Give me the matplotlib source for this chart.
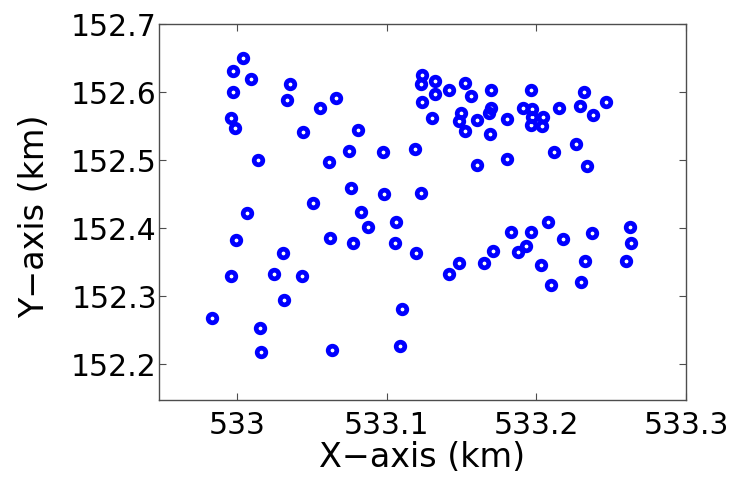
import matplotlib.pyplot as plt
import numpy as np

# station positions (km)
x_km = [533.0038, 532.9975, 533.0094, 532.9975, 533.0355, 533.0333, 533.0663,
        533.0556, 532.9960, 532.9987, 533.0444, 533.0806, 533.0143, 533.0746,
        533.0614, 533.0973, 533.1188, 533.0761, 533.0980, 533.1232, 533.0511,
        533.0828, 533.0069, 533.1065,
        533.1239, 533.1232, 533.1326, 533.1326, 533.1418, 533.1523, 533.1567,
        533.1701, 533.1239, 533.1306, 533.1500, 533.1482, 533.1601, 533.1523,
        533.1701, 533.1683, 533.1690, 533.1802, 533.1962, 533.1914, 533.1969,
        533.1974, 533.2047, 533.1965, 533.2041, 533.2155, 533.2320, 533.2289,
        533.2467, 533.2382, 533.2119, 533.2264, 533.1601, 533.1802, 533.2342,
        532.9993, 533.0306, 533.0623, 533.0779, 533.0873, 533.1056, 533.1199,
        532.9960, 533.0246, 533.0437, 533.0317, 532.9833, 533.0152, 533.0161,
        533.0636, 533.1100, 533.1092,
        533.1418, 533.1485, 533.1652, 533.1713, 533.1829, 533.1876, 533.1931,
        533.1962, 533.2081, 533.2181, 533.2031, 533.2096, 533.2324, 533.2297,
        533.2373, 533.2628, 533.2634, 533.2601]
y_km = [152.651, 152.631, 152.619, 152.600, 152.612, 152.589, 152.592,
        152.577, 152.562, 152.547, 152.542, 152.544, 152.501, 152.514,
        152.498, 152.512, 152.516, 152.459, 152.450, 152.451, 152.437,
        152.424, 152.422, 152.409,
        152.626, 152.612, 152.616, 152.598, 152.604, 152.614, 152.595,
        152.604, 152.585, 152.562, 152.569, 152.558, 152.559, 152.543,
        152.577, 152.569, 152.539, 152.561, 152.604, 152.577, 152.575,
        152.563, 152.563, 152.552, 152.551, 152.577, 152.601, 152.580,
        152.585, 152.566, 152.512, 152.524, 152.493, 152.502, 152.492,
        152.382, 152.364, 152.386, 152.378, 152.401, 152.378, 152.364,
        152.330, 152.333, 152.330, 152.294, 152.268, 152.253, 152.217,
        152.221, 152.281, 152.227,
        152.333, 152.349, 152.349, 152.366, 152.395, 152.365, 152.374,
        152.395, 152.409, 152.384, 152.346, 152.317, 152.351, 152.321,
        152.393, 152.402, 152.378, 152.352]

x_ticks = [533.0, 533.1, 533.2, 533.3]
x_ticklabels = ['533', '533.1', '533.2', '533.3']
y_ticks = [152.2, 152.3, 152.4, 152.5, 152.6, 152.7]

plt.rcParams['font.family'] = ['DejaVu Sans']

fig = plt.figure(figsize=(7.35, 4.83), dpi=100)
ax = fig.add_axes([0.2163, 0.1718, 0.717, 0.7779])

ax.plot(x_km, y_km, 'o', linestyle='none', markersize=6.2,
        markerfacecolor='none', markeredgecolor='blue', markeredgewidth=3.4)

ax.set_xlim(532.948, 533.3)
ax.set_ylim(152.147, 152.7)
ax.set_xticks(x_ticks)
ax.set_xticklabels(x_ticklabels)
ax.set_yticks(y_ticks)
ax.tick_params(direction='in', top=True, right=True, length=5, width=0.8,
               color='0.3', labelsize=21.5)
ax.tick_params(axis='x', pad=8)
ax.tick_params(axis='y', pad=1.5)
for s in ax.spines.values():
    s.set_color('0.3')
    s.set_linewidth(1.0)

ax.set_xlabel('X\u2212axis (km)', fontsize=24)
ax.set_ylabel('Y\u2212axis (km)', fontsize=24)
ax.xaxis.set_label_coords(0.5, -0.110)
ax.yaxis.set_label_coords(-0.205, 0.49)

fig.savefig('out.png', dpi=100)
